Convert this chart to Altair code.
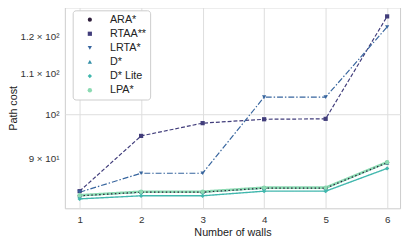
import altair as alt
import pandas as pd

walls = [1, 2, 3, 4, 5, 6]
algos = ["ARA*", "RTAA**", "LRTA*", "D*", "D* Lite", "LPA*"]
ara = [82.5, 83.2, 83.2, 84.0, 84.0, 89.2]
rtaa = [83.4, 95.0, 97.9, 98.8, 98.9, 125.9]
lrta = [83.2, 87.0, 87.0, 104.1, 104.1, 122.8]
dstar = [82.5, 83.2, 83.2, 84.0, 84.0, 89.2]
dlite = [81.9, 82.5, 82.5, 83.4, 83.4, 88.0]
lpa = [82.6, 83.3, 83.3, 84.1, 84.1, 89.3]
series = [ara, rtaa, lrta, dstar, dlite, lpa]

colors = ["#2e1e3b", "#413d7b", "#37659e", "#348fa7", "#40b7ad", "#8bdab2"]
shapes = ["circle", "square", "triangle-down", "triangle-up", "diamond", "circle"]
sizes = [18, 20, 18, 14, 28, 1.5]
dashes = [[1.5, 2.5], [4, 2], [6, 2, 1.5, 2], [1, 0], [1, 0], [1, 0]]
widths = [1.2, 1.2, 1.2, 1.2, 1.4, 2.6]

y_ticks = [90, 100, 110, 120]
y_labels = ["9 × 10¹", "10²", "1.1 × 10²", "1.2 × 10²"]

rows = []
for a, vals in zip(algos, series):
    for w, v in zip(walls, vals):
        rows.append({"walls": w, "cost": v, "algo": a})
df = pd.DataFrame(rows)

label_expr = " : ".join(
    [f"datum.value == {t} ? '{l}'" for t, l in zip(y_ticks, y_labels)]
) + " : ''"

xenc = alt.X(
    "walls:Q",
    scale=alt.Scale(domain=[0.76, 6.21], nice=False, zero=False),
    axis=alt.Axis(values=walls, format="d", title="Number of walls", ticks=False,
                  domain=False, labelPadding=6, titlePadding=3,
                  gridColor="#dddddd", gridWidth=1),
)
yenc = alt.Y(
    "cost:Q",
    scale=alt.Scale(type="log", domain=[80.1, 128.6], nice=False, zero=False),
    axis=alt.Axis(values=y_ticks, labelExpr=label_expr, title="Path cost", ticks=False,
                  domain=False, labelPadding=6, titlePadding=2,
                  gridColor="#dddddd",
                  gridOpacity={"condition": {"test": "datum.value == 100", "value": 1}, "value": 0}),
)

draw_order = ["D*", "LPA*", "ARA*", "D* Lite", "RTAA**", "LRTA*"]
layers = []
for a in draw_order:
    i = algos.index(a)
    layers.append(
        alt.Chart(df[df.algo == a]).mark_line(
            color=colors[i], strokeDash=dashes[i], strokeWidth=widths[i]
        ).encode(x=xenc, y=yenc)
    )

points = alt.Chart(df).mark_point(filled=True, opacity=1).encode(
    x=xenc, y=yenc,
    color=alt.Color("algo:N", scale=alt.Scale(domain=algos, range=colors), title=None),
    shape=alt.Shape("algo:N", scale=alt.Scale(domain=algos, range=shapes), title=None),
    size=alt.Size("algo:N", scale=alt.Scale(domain=algos, range=sizes), title=None),
)

chart = alt.layer(*layers, points).properties(
    width=342, height=205,
    autosize=alt.AutoSizeParams(type="none"),
    padding={"left": 58, "top": -3, "right": 3, "bottom": 32},
).configure_view(
    stroke="#cccccc", strokeWidth=1
).configure_axis(
    labelFont="Liberation Sans", titleFont="Liberation Sans",
    labelFontSize=10, titleFontSize=11, labelColor="#333333", titleColor="#222222",
    titleFontWeight="normal"
).configure_legend(
    orient="none", legendX=8, legendY=3,
    fillColor="white", strokeColor="#cccccc", cornerRadius=3,
    padding=4, symbolOffset=8, labelFont="Liberation Sans", labelFontSize=11,
    labelColor="#222222", rowPadding=2.4, labelOffset=15, symbolStrokeWidth=0
)

chart.save("out.html", embed_options={"renderer": "svg", "actions": False})
